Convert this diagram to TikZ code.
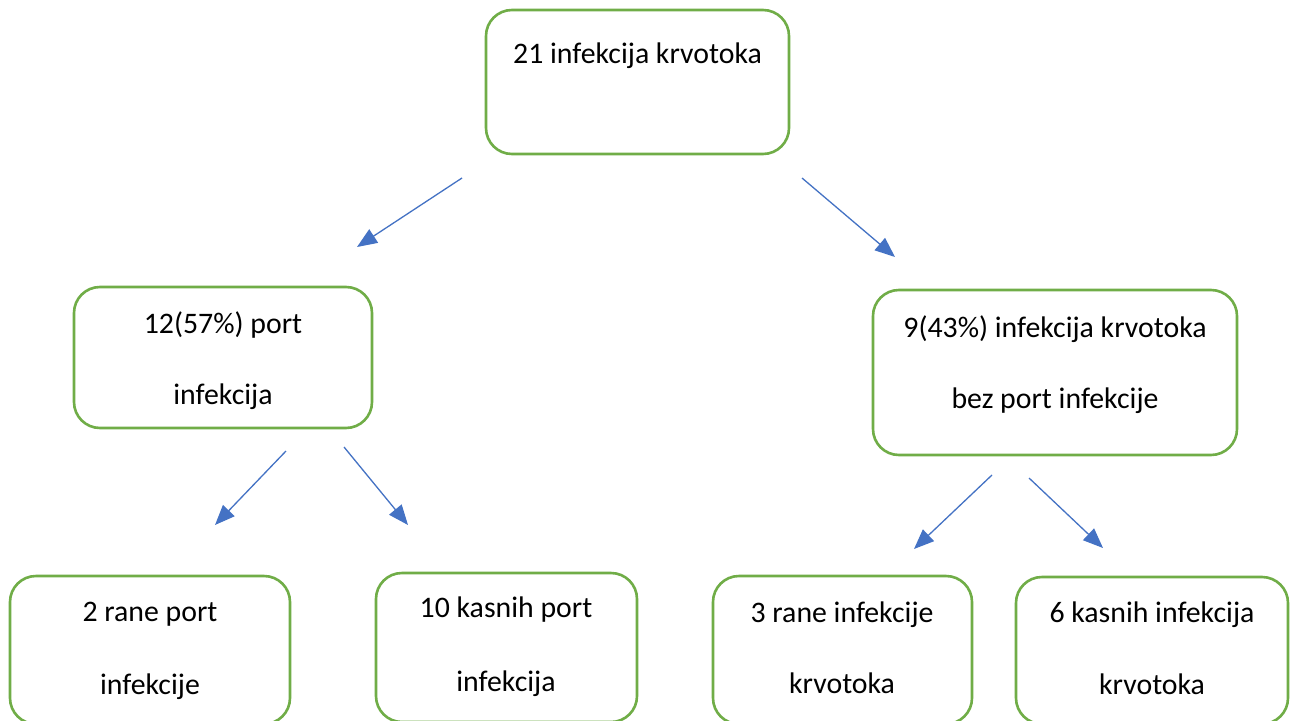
\documentclass[tikz,border=0pt]{standalone}
\usepackage{fontspec}
\setmainfont{Carlito}
\usetikzlibrary{arrows.meta}
\definecolor{boxgreen}{HTML}{70AD47}
\definecolor{arrowblue}{HTML}{4472C4}
\tikzset{
  box/.style={draw=boxgreen, line width=2.6pt, rounded corners=26pt, fill=white, inner sep=0pt},
  txt/.style={anchor=base, inner sep=0pt, font=\fontsize{29.8}{36}\selectfont, text=black},
  arr/.style={draw=arrowblue, line width=1.3pt, -{Triangle[length=20pt,width=16pt]}}
}
\begin{document}
\begin{tikzpicture}[x=1pt,y=-1pt]
\useasboundingbox (0,0) rectangle (1290,720);
\clip (0,0) rectangle (1290,720);
\fill[white] (0,0) rectangle (1290,720);

% boxes
\node[box, minimum width=303pt, minimum height=144pt] (top) at (637.5,82) {};
\node[box, minimum width=298pt, minimum height=141pt] (ml) at (223,357.5) {};
\node[box, minimum width=364pt, minimum height=165pt] (mr) at (1055,372.5) {};
\node[box, minimum width=280pt, minimum height=148pt] (b1) at (150,650) {};
\node[box, minimum width=261pt, minimum height=149pt] (b2) at (506.5,647.5) {};
\node[box, minimum width=259pt, minimum height=148pt] (b3) at (842.5,650) {};
\node[box, minimum width=272pt, minimum height=147pt] (b4) at (1152,650.5) {};

% texts
\node[txt] (t0) at (637.5,63) {21 infekcija krvotoka};
\node[txt] (tml1) at (223,333) {12(57\%) port};
\node[txt] (tml2) at (223,404) {infekcija};
\node[txt] (tmr1) at (1055,337) {9(43\%) infekcija krvotoka};
\node[txt] (tmr2) at (1055,408) {bez port infekcije};
\node[txt] (tb11) at (150,621) {2 rane port};
\node[txt] (tb12) at (150,694) {infekcije};
\node[txt] (tb21) at (506,617) {10 kasnih port};
\node[txt] (tb22) at (506,691) {infekcija};
\node[txt] (tb31) at (842,622) {3 rane infekcije};
\node[txt] (tb32) at (842,693) {krvotoka};
\node[txt] (tb41) at (1152,622) {6 kasnih infekcija};
\node[txt] (tb42) at (1152,694) {krvotoka};

% arrow end points
\coordinate (a1s) at (462,178); \coordinate (a1e) at (357,247);
\coordinate (a2s) at (802,178); \coordinate (a2e) at (895,257);
\coordinate (a3s) at (286,451); \coordinate (a3e) at (215,525);
\coordinate (a4s) at (344,447); \coordinate (a4e) at (408,525);
\coordinate (a5s) at (992,475); \coordinate (a5e) at (914,549);
\coordinate (a6s) at (1029,478); \coordinate (a6e) at (1103,548);

\draw[arr] (a1s) -- (a1e);
\draw[arr] (a2s) -- (a2e);
\draw[arr] (a3s) -- (a3e);
\draw[arr] (a4s) -- (a4e);
\draw[arr] (a5s) -- (a5e);
\draw[arr] (a6s) -- (a6e);
\end{tikzpicture}
\end{document}
